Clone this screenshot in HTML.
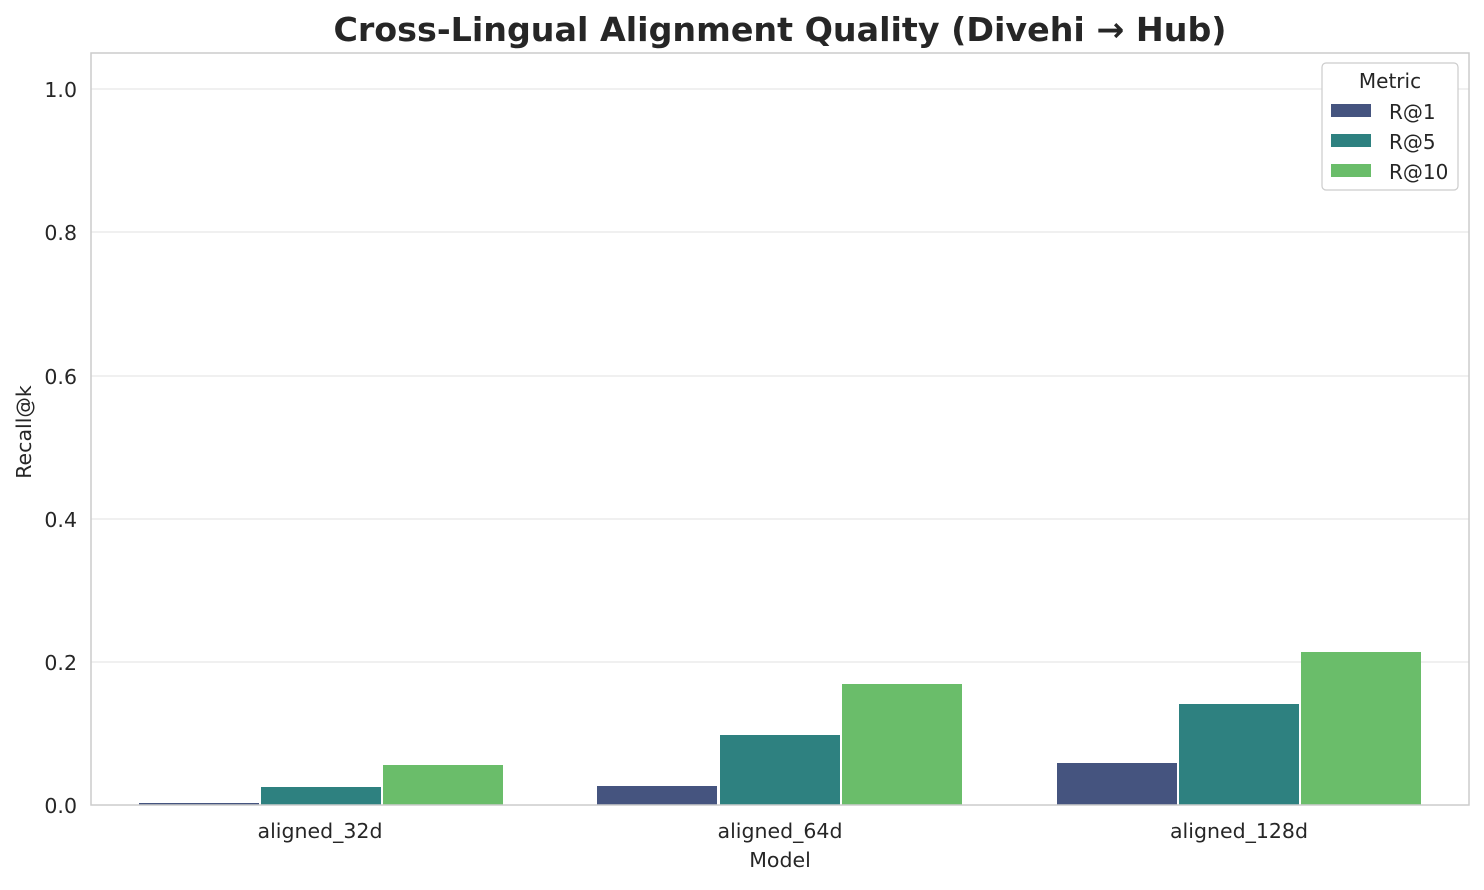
<!DOCTYPE html>
<html><head><meta charset="utf-8"><style>
body{margin:0;background:#fff;}
svg text{font-family:"DejaVu Sans","Liberation Sans",sans-serif;fill:#262626;}
</style></head><body>
<svg width="1484" height="885" xmlns="http://www.w3.org/2000/svg">
<rect width="1484" height="885" fill="#fff"/>
<text x="780" y="41" text-anchor="middle" font-size="33.3" font-weight="bold">Cross-Lingual Alignment Quality (Divehi → Hub)</text>
<g stroke="#ebebeb" stroke-width="1.5">
<line x1="91" x2="1469" y1="89" y2="89"/>
<line x1="91" x2="1469" y1="232" y2="232"/>
<line x1="91" x2="1469" y1="376" y2="376"/>
<line x1="91" x2="1469" y1="519" y2="519"/>
<line x1="91" x2="1469" y1="662" y2="662"/>
</g>
<g font-size="20.5" text-anchor="end">
<text x="77" y="97">1.0</text><text x="77" y="240">0.8</text><text x="77" y="384">0.6</text><text x="77" y="527">0.4</text><text x="77" y="670">0.2</text><text x="77" y="813">0.0</text>
</g>
<g>
<rect x="139" y="803" width="120" height="2" fill="#45547f"/>
<rect x="261" y="787" width="120" height="18" fill="#2e8180"/>
<rect x="383" y="765" width="120" height="40" fill="#6abd6a"/>
<rect x="597" y="786" width="120" height="19" fill="#45547f"/>
<rect x="720" y="735" width="120" height="70" fill="#2e8180"/>
<rect x="842" y="684" width="120" height="121" fill="#6abd6a"/>
<rect x="1057" y="763" width="120" height="42" fill="#45547f"/>
<rect x="1179" y="704" width="120" height="101" fill="#2e8180"/>
<rect x="1301" y="652" width="120" height="153" fill="#6abd6a"/>
</g>
<rect x="91" y="53" width="1378" height="752" fill="none" stroke="#cccccc" stroke-width="1.5"/>
<g font-size="20.5" text-anchor="middle">
<text x="320" y="838">aligned_32d</text><text x="780" y="838">aligned_64d</text><text x="1239" y="838">aligned_128d</text>
<text x="780" y="867">Model</text>
<text transform="translate(31,432) rotate(-90)">Recall@k</text>
</g>
<rect x="1322" y="63" width="136" height="127" rx="4" fill="#fff" stroke="#cccccc" stroke-width="1.2"/>
<g font-size="20">
<text x="1390" y="88" text-anchor="middle">Metric</text>
<rect x="1331" y="104" width="40" height="13" fill="#45547f"/><text x="1389" y="119">R@1</text>
<rect x="1331" y="134" width="40" height="13" fill="#2e8180"/><text x="1389" y="149">R@5</text>
<rect x="1331" y="164" width="40" height="13" fill="#6abd6a"/><text x="1389" y="179">R@10</text>
</g>
</svg>
</body></html>
